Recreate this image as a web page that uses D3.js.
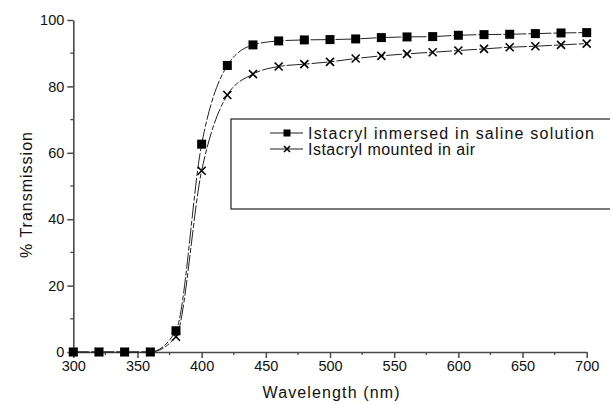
<!DOCTYPE html>
<html lang="en">
<head>
    <meta charset="UTF-8">
    <title>Transmission</title>
    <style>
        body { margin: 0; background: #fff; }
        svg { display: block; }
    </style>
</head>
<body>
    <script src="https://d3js.org/d3.v7.min.js"></script>
    <script>
        const wavelengths = [300, 320, 340, 360, 380, 400, 420, 440, 460, 480, 500, 520, 540, 560, 580, 600, 620, 640, 660, 680, 700];
        const saline = [0, 0, 0, 0, 6.4, 62.6, 86.3, 92.5, 93.7, 94.0, 94.1, 94.3, 94.7, 94.9, 95.0, 95.4, 95.6, 95.7, 95.9, 96.1, 96.2];
        const air = [0, 0, 0, 0, 4.6, 54.6, 77.4, 83.7, 86.0, 86.7, 87.4, 88.4, 89.2, 89.8, 90.3, 90.8, 91.3, 91.8, 92.1, 92.5, 92.9];
        const seriesNames = ["Istacryl inmersed in saline solution", "Istacryl mounted in air"];
        const xTicks = [300, 350, 400, 450, 500, 550, 600, 650, 700];
        const yTicks = [0, 20, 40, 60, 80, 100];

        const width = 610;
        const height = 404;
        const font = "'Liberation Sans', Arial, sans-serif";
        const axisColor = "#4a4a4a";

        const svg = d3.select("body").append("svg")
            .attr("width", width)
            .attr("height", height);

        let x = d3.scaleLinear().domain([300, 700]).range([73.3, 586.7]);
        let y = d3.scaleLinear().domain([0, 100]).range([352, 20]);

        // minor ticks
        let minorX = d3.range(325, 700, 50);
        let minorY = d3.range(10, 100, 20);

        svg.append("g").selectAll("line")
            .data(minorX).enter().append("line")
            .attr("x1", d => x(d)).attr("x2", d => x(d))
            .attr("y1", y(0)).attr("y2", y(0) + 3)
            .attr("stroke", axisColor).attr("stroke-width", 1.3);
        svg.append("g").selectAll("line")
            .data(minorY).enter().append("line")
            .attr("y1", d => y(d)).attr("y2", d => y(d))
            .attr("x1", x(300)).attr("x2", x(300) - 3)
            .attr("stroke", axisColor).attr("stroke-width", 1.3);

        let xAxis = svg.append("g")
            .attr("transform", `translate(0, ${y(0)})`)
            .call(d3.axisBottom(x).tickValues(xTicks).tickSize(6).tickSizeOuter(0).tickPadding(3));
        let yAxis = svg.append("g")
            .attr("transform", `translate(${x(300)}, 0)`)
            .call(d3.axisLeft(y).tickValues(yTicks).tickSize(6).tickSizeOuter(0).tickPadding(3));

        [xAxis, yAxis].forEach(a => {
            a.select(".domain").attr("stroke", axisColor).attr("stroke-width", 1.6);
            a.selectAll(".tick line").attr("stroke", axisColor).attr("stroke-width", 1.5);
            a.selectAll("text")
                .attr("font-family", font)
                .attr("font-size", 14.5)
                .attr("fill", "#111");
        });

        svg.append("text")
            .attr("x", 331).attr("y", 398)
            .attr("text-anchor", "middle")
            .attr("font-family", font).attr("font-size", 16)
            .attr("textLength", 137).attr("lengthAdjust", "spacing")
            .attr("fill", "#111")
            .text("Wavelength (nm)");

        svg.append("text")
            .attr("transform", "translate(32, 195) rotate(-90)")
            .attr("text-anchor", "middle")
            .attr("font-family", font).attr("font-size", 16)
            .attr("textLength", 126).attr("lengthAdjust", "spacing")
            .attr("fill", "#111")
            .text("% Transmission");

        let line = d3.line()
            .x(d => x(d[0]))
            .y(d => y(d[1]))
            .curve(d3.curveMonotoneX);

        let salineData = wavelengths.map((w, i) => [w, saline[i]]);
        let airData = wavelengths.map((w, i) => [w, air[i]]);

        [airData, salineData].forEach(data => {
            svg.append("path")
                .attr("d", line(data))
                .attr("fill", "none")
                .attr("stroke", "#222")
                .attr("stroke-width", 1)
                .attr("stroke-dasharray", "16,2,5,2");
        });

        function cross(g, cx, cy, s) {
            g.append("path")
                .attr("d", `M${cx - s},${cy - s}L${cx + s},${cy + s}M${cx - s},${cy + s}L${cx + s},${cy - s}`)
                .attr("stroke", "#000")
                .attr("stroke-width", 1.6)
                .attr("fill", "none");
        }

        let airMarks = svg.append("g");
        airData.forEach(d => cross(airMarks, x(d[0]), y(d[1]), 4));

        svg.append("g").selectAll("rect")
            .data(salineData).enter().append("rect")
            .attr("x", d => x(d[0]) - 4.5)
            .attr("y", d => y(d[1]) - 4.5)
            .attr("width", 9).attr("height", 9)
            .attr("fill", "#000");

        // legend
        let legend = svg.append("g");
        legend.append("rect")
            .attr("x", 231).attr("y", 119)
            .attr("width", 400).attr("height", 90)
            .attr("fill", "#fff")
            .attr("stroke", "#222").attr("stroke-width", 1.2);

        let rows = [133, 149];
        let textLengths = [286, 167];
        seriesNames.forEach((name, i) => {
            legend.append("line")
                .attr("x1", 270).attr("x2", 303)
                .attr("y1", rows[i]).attr("y2", rows[i])
                .attr("stroke", "#222").attr("stroke-width", 1);
            if (i === 0) {
                legend.append("rect")
                    .attr("x", 283.5).attr("y", rows[i] - 3.5)
                    .attr("width", 7).attr("height", 7)
                    .attr("fill", "#000");
            } else {
                cross(legend, 287, rows[i], 3);
            }
            legend.append("text")
                .attr("x", 308).attr("y", rows[i] + 5.5)
                .attr("font-family", font).attr("font-size", 16)
                .attr("textLength", textLengths[i]).attr("lengthAdjust", "spacing")
                .attr("fill", "#111")
                .text(name);
        });
    </script>
</body>
</html>
